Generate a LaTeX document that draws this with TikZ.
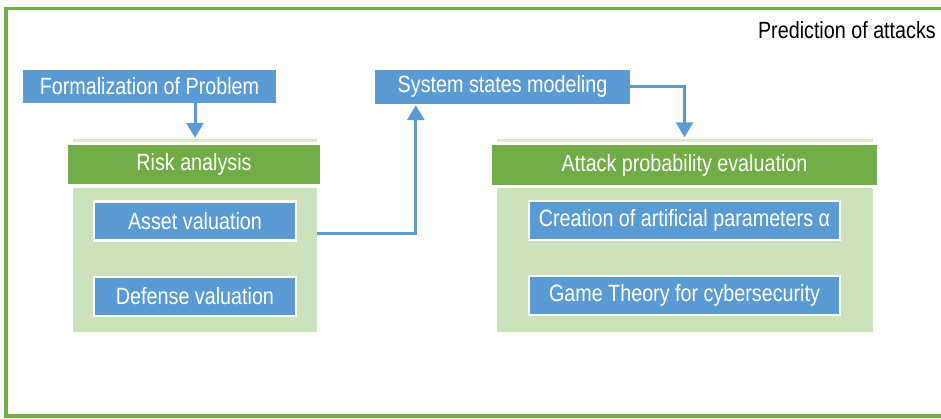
\documentclass[tikz,border=0pt]{standalone}
\usepackage{fontspec}
\setmainfont{Liberation Sans}[FakeStretch=0.84]
\usetikzlibrary{arrows.meta,calc}
\definecolor{cblue}{HTML}{5B9BD5}
\definecolor{cgreen}{HTML}{70AD47}
\definecolor{clight}{HTML}{CCE2BA}
\definecolor{cline}{HTML}{D8E9CC}
\tikzset{
  txt/.style={font=\fontsize{23.5}{26}\selectfont, inner sep=0pt},
  bluebox/.style={txt, fill=cblue, text=white, draw=none},
  subbox/.style={txt, fill=cblue, text=white, draw=white, line width=2.5pt},
  header/.style={txt, fill=cgreen, text=white},
  bodybox/.style={fill=clight, inner sep=0pt},
  conn/.style={draw=cblue, line width=3pt, -{Triangle[width=17pt,length=15pt]}},
  thinline/.style={draw=cline, line width=3pt}
}
\begin{document}
\begin{tikzpicture}[x=1pt,y=-1pt]
\useasboundingbox (0,0) rectangle (941,418);
\clip (0,0) rectangle (941,418);
% outer frame
\draw[cgreen, line width=3.5pt] (6,8.5) rectangle (960,416);
\node[txt, anchor=east, text=black] (pred) at (936,30) {Prediction of attacks};

% top boxes
\node[bluebox, minimum width=253pt, minimum height=33pt] (form) at (149.5,86.5) {Formalization of Problem};
\node[bluebox, minimum width=255pt, minimum height=34pt] (sys) at (502.5,86.5) {System states modeling};

% left group
\coordinate (l1) at (73,140); \coordinate (l2) at (317,140);
\draw[thinline] (l1) -- (l2);
\node[header, minimum width=252pt, minimum height=39pt] (risk) at (194,164.5) {Risk analysis};
\node[bodybox, minimum width=244pt, minimum height=144pt] (riskbody) at (195,260) {};
\node[subbox, minimum width=202pt, minimum height=39pt] (asset) at (195,221) {Asset valuation};
\node[subbox, minimum width=202pt, minimum height=39pt] (defense) at (195,296.5) {Defense valuation};

% right group
\coordinate (r1) at (497,140); \coordinate (r2) at (873,140);
\draw[thinline] (r1) -- (r2);
\node[header, minimum width=385pt, minimum height=40pt] (attack) at (684.5,165) {Attack probability evaluation};
\node[bodybox, minimum width=376pt, minimum height=144pt] (attackbody) at (685,260) {};
\node[subbox, minimum width=311pt, minimum height=39pt] (creation) at (684.5,220.5) {Creation of artificial parameters α};
\node[subbox, minimum width=311pt, minimum height=39pt] (game) at (684.5,295.5) {Game Theory for cybersecurity};

% connectors
\draw[conn] (form.south -| 195,0) -- ($(risk.north -| 195,0)+(0,-7)$);
\coordinate (a1) at ($(riskbody.north east)+(0,46)$);
\draw[conn] (a1) -| ($(sys.south west)+(41,1.5)$);
\draw[conn] (sys.east) -| ($(attack.north)+(0,-7.5)$);
\end{tikzpicture}
\end{document}
